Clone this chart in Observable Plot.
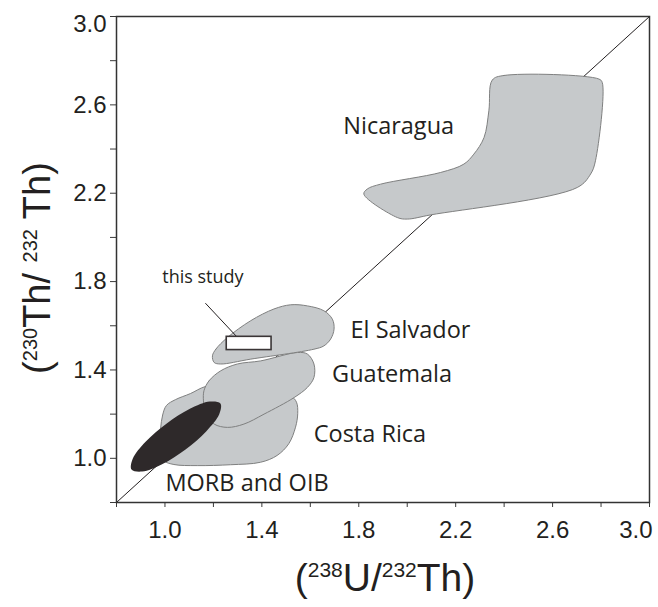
<!DOCTYPE html>
<html>
<head>
<meta charset="utf-8">
<script src="https://cdn.jsdelivr.net/npm/d3@7"></script>
<script src="https://cdn.jsdelivr.net/npm/@observablehq/plot@0.6"></script>
<style>
  body { margin: 0; background: #fff; }
  g[aria-label="x-axis tick label"] text,
  g[aria-label="y-axis tick label"] text {
    font-size: 24px;
    font-family: 'Liberation Sans', Arial, sans-serif;
  }
</style>
</head>
<body>
<div id="chart"></div>
<script>
// Axis ticks: minor marks every 0.2, labels every 0.4
const xMinorTicks = [0.8, 1.0, 1.2, 1.4, 1.6, 1.8, 2.0, 2.2, 2.4, 2.6, 2.8, 3.0];
const yMinorTicks = [0.8, 1.0, 1.2, 1.4, 1.6, 1.8, 2.0, 2.2, 2.4, 2.6, 2.8, 3.0];
const xLabelTicks = [1.0, 1.4, 1.8, 2.2, 2.6];
const yLabelTicks = [1.0, 1.4, 1.8, 2.2, 2.6];
const xEndTick = [3.0];
const yEndTick = [3.0];

// Equiline (secular equilibrium)
const equiline = [0.8, 3.0];

// Field outlines, [(238U/232Th), (230Th/232Th)]
const nicaragua = [
  [2.351, 2.712], [2.399, 2.733], [2.791, 2.717], [2.805, 2.701],
  [2.777, 2.347], [2.757, 2.287], [2.702, 2.226], [2.097, 2.102],
  [2.000, 2.083], [1.959, 2.090], [1.821, 2.196], [1.835, 2.219],
  [1.890, 2.241], [2.138, 2.294], [2.234, 2.332], [2.275, 2.377],
  [2.317, 2.452], [2.337, 2.573]
];

const elSalvador = [
  [1.196, 1.464], [1.210, 1.494], [1.258, 1.547], [1.354, 1.623],
  [1.450, 1.676], [1.519, 1.695], [1.588, 1.690], [1.656, 1.668],
  [1.691, 1.630], [1.698, 1.585], [1.684, 1.540], [1.656, 1.509],
  [1.615, 1.494], [1.354, 1.449], [1.230, 1.427], [1.203, 1.434]
];

const guatemala = [
  [1.161, 1.306], [1.182, 1.351], [1.230, 1.396], [1.299, 1.427],
  [1.395, 1.441], [1.547, 1.479], [1.588, 1.472], [1.615, 1.427],
  [1.615, 1.366], [1.588, 1.321], [1.533, 1.275], [1.409, 1.200],
  [1.326, 1.155], [1.258, 1.140], [1.203, 1.155], [1.168, 1.200],
  [1.159, 1.260]
];

const costaRica = [
  [0.982, 1.135], [0.990, 1.194], [1.006, 1.239], [1.044, 1.266],
  [1.105, 1.293], [1.167, 1.325], [1.271, 1.339], [1.407, 1.316],
  [1.518, 1.284], [1.543, 1.254], [1.548, 1.202], [1.539, 1.141],
  [1.511, 1.066], [1.463, 1.013], [1.394, 0.982], [1.271, 0.971],
  [1.133, 0.967], [1.037, 0.972], [0.995, 0.990], [0.975, 1.050]
];

const morbOib = [
  [1.229, 1.248], [1.224, 1.199], [1.171, 1.123], [1.085, 1.040],
  [0.988, 0.973], [0.906, 0.940], [0.862, 0.949], [0.867, 0.998],
  [0.920, 1.075], [1.006, 1.157], [1.103, 1.224], [1.185, 1.257]
];

// Range of the samples of this study
const thisStudy = { x1: 1.255, x2: 1.440, y1: 1.490, y2: 1.550 };
const leader = [[1.168, 1.701], [1.302, 1.544]];

// Field names, anchored at their left end
const fieldLabels = [
  { name: "Nicaragua", x: 1.736, y: 2.500 },
  { name: "El Salvador", x: 1.766, y: 1.580 },
  { name: "Guatemala", x: 1.690, y: 1.379 },
  { name: "Costa Rica", x: 1.614, y: 1.110 },
  { name: "MORB and OIB", x: 1.002, y: 0.888 }
];
const studyLabel = [{ name: "this study", x: 0.989, y: 1.818 }];

const ink = "#231f20";
const fieldFill = "#c6c9cb";
const fieldStroke = "#7f8080";
const labelFont = "'Open Sans', 'Noto Sans', sans-serif";
const axisFont = "'Liberation Sans', Arial, sans-serif";
const fmt = d => d.toFixed(1);

const field = (data) => Plot.line(data, {
  x: d => d[0], y: d => d[1],
  curve: "catmull-rom-closed",
  fill: fieldFill, stroke: fieldStroke, strokeWidth: 1
});

const plot = Plot.plot({
  width: 658,
  height: 607,
  marginLeft: 116,
  marginRight: 9,
  marginTop: 16,
  marginBottom: 105,
  x: { domain: [0.8, 3.0] },
  y: { domain: [0.8, 3.0] },
  style: {
    fontFamily: axisFont,
    fontSize: "24px",
    color: ink,
    background: "#fff"
  },
  marks: [
    Plot.line(equiline, { x: d => d, y: d => d, stroke: ink, strokeWidth: 1 }),
    field(costaRica),
    field(guatemala),
    field(elSalvador),
    field(nicaragua),
    Plot.line(morbOib, {
      x: d => d[0], y: d => d[1], curve: "catmull-rom-closed",
      fill: "#2e292a", stroke: "none"
    }),
    Plot.line(leader, { x: d => d[0], y: d => d[1], stroke: ink, strokeWidth: 1 }),
    Plot.rect([thisStudy], {
      x1: "x1", x2: "x2", y1: "y1", y2: "y2",
      fill: "#fff", stroke: "#3a3536", strokeWidth: 1.6
    }),
    Plot.text(fieldLabels, {
      x: "x", y: "y", text: "name", textAnchor: "start",
      fontFamily: labelFont, fontSize: 23.5, fill: ink
    }),
    Plot.text(studyLabel, {
      x: "x", y: "y", text: "name", textAnchor: "start",
      fontFamily: labelFont, fontSize: 18, fill: ink
    }),
    // x axis
    Plot.axisX(xMinorTicks, { tickSize: 5, tickFormat: () => "", label: null, stroke: "#3a3a3a" }),
    Plot.axisX(xLabelTicks, { tickSize: 0, tickPadding: 18, tickFormat: fmt, label: null, fill: ink }),
    Plot.axisX(xEndTick, { tickSize: 0, tickPadding: 18, tickFormat: fmt, label: null, fill: ink, textAnchor: "end", dx: 3 }),
    // y axis
    Plot.axisY(yMinorTicks, { tickSize: 6, tickFormat: () => "", label: null, stroke: "#3a3a3a" }),
    Plot.axisY(yLabelTicks, { tickSize: 0, tickPadding: 10, tickFormat: fmt, label: null, fill: ink }),
    Plot.axisY(yEndTick, { tickSize: 0, tickPadding: 10, tickFormat: fmt, label: null, fill: ink, dy: 8 }),
    Plot.frame({ stroke: "#333", strokeWidth: 1.5 })
  ]
});

document.getElementById("chart").appendChild(plot);

// Axis titles with superscript mass numbers
const svg = d3.select(plot);

function addRatioTitle(g, parts, supSize, rise) {
  parts.forEach(p => {
    const t = g.append("tspan").text(p.text);
    if (p.sup) {
      t.attr("dy", -rise).style("font-size", supSize + "px");
    } else if (p.after) {
      t.attr("dy", rise);
    }
  });
}

const xTitle = svg.append("text")
  .attr("x", 385).attr("y", 591)
  .attr("text-anchor", "middle")
  .attr("fill", ink)
  .style("font-family", axisFont)
  .style("font-size", "39px");
addRatioTitle(xTitle, [
  { text: "(" }, { text: "238", sup: true }, { text: "U/", after: true },
  { text: "232", sup: true }, { text: "Th)", after: true }
], 21, 14);

const yTitle = svg.append("text")
  .attr("transform", "translate(50,268) rotate(-90)")
  .attr("text-anchor", "middle")
  .attr("fill", ink)
  .style("font-family", axisFont)
  .style("font-size", "38px");
addRatioTitle(yTitle, [
  { text: "(" }, { text: "230", sup: true }, { text: "Th/ ", after: true },
  { text: "232", sup: true }, { text: " Th)", after: true }
], 20, 13);
</script>
</body>
</html>
